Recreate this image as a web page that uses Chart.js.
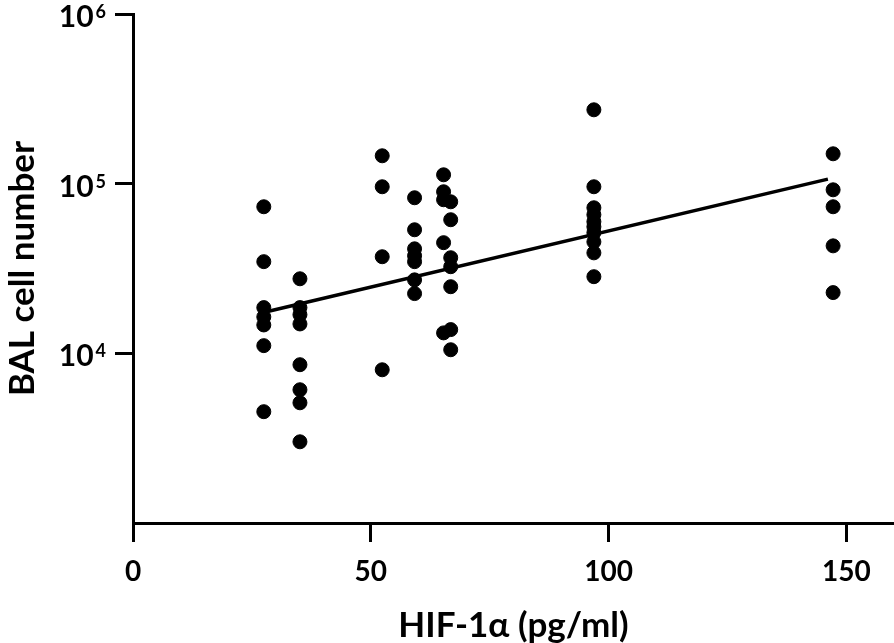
<!DOCTYPE html>
<html>
<head>
<meta charset="utf-8">
<script src="https://cdn.jsdelivr.net/npm/chart.js@4.4.1/dist/chart.umd.min.js"></script>
<style>
  html, body { margin: 0; padding: 0; background: #ffffff; }
  #wrap { width: 894px; height: 643px; }
</style>
</head>
<body>
<div id="wrap"><canvas id="c" width="894" height="643"></canvas></div>
<script>
// HIF-1α levels (pg/ml) of each group column
const hifLevels = [27.5, 35.1, 52.4, 59.2, 65.3, 66.8, 96.9, 147.2];
// BAL cell numbers for each column
const balCol1 = [73100, 34700, 18600, 16400, 14700, 11100, 4530];
const balCol2 = [27500, 18600, 16900, 14900, 8570, 6100, 5110, 3010];
const balCol3 = [146000, 95900, 37100, 8000];
const balCol4 = [82600, 53500, 41300, 37600, 34700, 27100, 22500];
const balCol5 = [112800, 89600, 80400, 44900, 13200];
const balCol6 = [78200, 61300, 36600, 32400, 24700, 13800, 10500];
const balCol7 = [272500, 95900, 72100, 65600, 59700, 55700, 51400, 45400, 39100, 28300];
const balCol8 = [150000, 92000, 73100, 43000, 22800];
const balColumns = [balCol1, balCol2, balCol3, balCol4, balCol5, balCol6, balCol7, balCol8];
// regression line end points
const fitX = [28.5, 146.1];
const fitY = [17700, 106400];
// axis ticks
const xTicks = [0, 50, 100, 150];
const yTicks = [10000, 100000, 1000000];

const points = [];
balColumns.forEach((col, i) => col.forEach(v => points.push({x: hifLevels[i], y: v})));
const fitPoints = fitX.map((x, i) => ({x: x, y: fitY[i]}));

const FONT = 'Lato, "Open Sans", "DejaVu Sans", sans-serif';

const yLabelPlugin = {
  id: 'yLabels',
  afterDraw(chart) {
    const s = chart.scales.y;
    const ctx = chart.ctx;
    ctx.save();
    ctx.fillStyle = '#000';
    s.ticks.forEach(t => {
      const py = s.getPixelForValue(t.value);
      const exp = String(Math.round(Math.log10(t.value)));
      ctx.font = 'bold 18px ' + FONT;
      ctx.textAlign = 'right';
      ctx.textBaseline = 'alphabetic';
      const ew = ctx.measureText(exp).width;
      ctx.fillText(exp, 106, py + 4);
      ctx.font = 'bold 30px ' + FONT;
      ctx.fillText('10', 106 - ew - 2, py + 13);
    });
    ctx.restore();
  }
};

new Chart(document.getElementById('c'), {
  type: 'scatter',
  data: {
    datasets: [
      {
        type: 'scatter',
        data: points,
        backgroundColor: '#000',
        borderColor: '#000',
        borderWidth: 1,
        pointRadius: 7,
        pointHoverRadius: 7
      },
      {
        type: 'line',
        data: fitPoints,
        borderColor: '#000',
        borderWidth: 3.5,
        pointRadius: 0,
        fill: false
      }
    ]
  },
  plugins: [yLabelPlugin],
  options: {
    responsive: false,
    animation: false,
    devicePixelRatio: 1,
    layout: { autoPadding: false, padding: { top: 14, right: 0, left: 0, bottom: 0 } },
    plugins: { legend: { display: false }, tooltip: { enabled: false } },
    scales: {
      x: {
        type: 'linear',
        min: 0,
        max: 160,
        afterFit(scale) { scale.height = 120; scale.paddingRight = 0; scale.paddingLeft = 0; },
        afterBuildTicks(scale) { scale.ticks = xTicks.map(v => ({value: v})); },
        ticks: {
          includeBounds: false,
          color: '#000',
          font: { family: FONT, size: 28, weight: 'bold' },
          padding: 13,
          maxRotation: 0
        },
        grid: { drawOnChartArea: false, drawTicks: true, tickLength: 19, lineWidth: 3, color: '#000' },
        border: { display: true, width: 3, color: '#000' },
        title: {
          display: true,
          text: 'HIF-1α (pg/ml)',
          color: '#000',
          font: { family: FONT, size: 35, weight: 'bold', lineHeight: 1.0 },
          padding: { top: 0, bottom: 0 }
        }
      },
      y: {
        type: 'logarithmic',
        min: 1000,
        max: 1000000,
        afterFit(scale) { scale.width = 133; scale.paddingTop = 0; scale.paddingBottom = 0; },
        afterBuildTicks(scale) { scale.ticks = yTicks.map(v => ({value: v})); },
        ticks: { display: false },
        grid: { drawOnChartArea: false, drawTicks: true, tickLength: 18, lineWidth: 3, color: '#000' },
        border: { display: true, width: 3, color: '#000' },
        title: {
          display: true,
          text: 'BAL cell number',
          color: '#000',
          font: { family: FONT, size: 35, weight: 'bold', lineHeight: 1.2 },
          padding: { top: 2, bottom: 0 }
        }
      }
    }
  }
});
</script>
</body>
</html>
